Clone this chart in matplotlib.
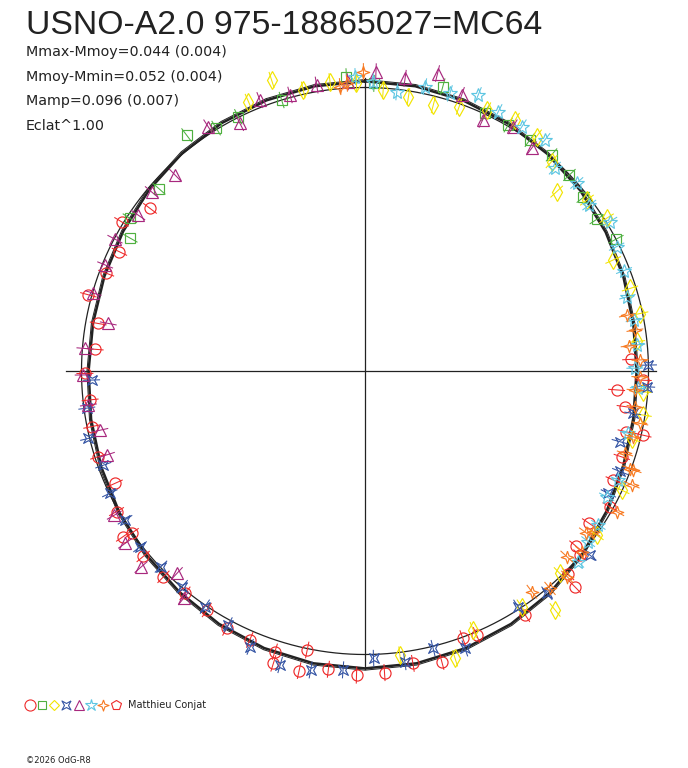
import numpy as np
import matplotlib.pyplot as plt
from matplotlib.collections import LineCollection

plt.rcParams['font.family'] = ['Liberation Sans', 'DejaVu Sans']

# phase angle in degrees (clockwise from top), relative brightness (1 = Mmoy)
red_ang = [307.1, 301.5, 295.9, 290.7, 285.4, 280.1, 274.6, 269.5, 264.0, 258.5, 252.2, 245.8,
           240.5, 235.6, 235.2, 230.1, 224.4, 219.0, 213.5, 208.3, 203.2, 197.8, 197.4, 192.4,
           191.7, 187.0, 181.6, 176.3, 170.7, 165.2, 159.9, 157.1, 146.7, 135.8, 135.0, 130.6,
           129.7, 124.2, 119.0, 113.7, 108.5, 103.1, 103.0, 97.8, 94.3, 91.9, 87.5]
red_flux = [0.951, 1.007, 0.963, 0.976, 1.012, 0.956, 0.955, 0.988, 0.975, 0.984, 0.988, 0.967,
            1.007, 1.034, 1.002, 1.020, 1.016, 1.009, 1.011, 1.030, 1.032, 1.040, 1.081, 1.082,
            1.005, 1.060, 1.073, 1.066, 1.045, 1.060, 1.004, 1.011, 1.029, 1.062, 1.013, 0.998,
            0.967, 0.956, 0.988, 0.957, 0.955, 0.945, 1.007, 0.926, 0.890, 0.982, 0.938]

green_ang = [342.9, 356.4, 1.8, 15.3, 25.0, 30.2, 35.5, 40.8, 46.2, 51.5, 56.8, 62.3,
             333.5, 328.5, 322.9, 311.5, 303.0, 299.5]
green_flux = [1.000, 1.040, 1.015, 1.040, 1.003, 1.004, 1.001, 1.007, 0.999, 0.984, 0.977, 1.000,
              1.002, 1.005, 1.043, 0.970, 0.989, 0.952]

yellow_ang = [342.2, 336.6, 347.6, 353.1, 358.3, 3.7, 9.0, 14.4, 19.6, 25.1, 30.9, 36.2,
              41.7, 46.9, 52.4, 57.7, 65.9, 72.7, 78.2, 83.8, 94.3, 99.0, 104.4, 114.9,
              125.3, 136.1, 141.5, 146.4, 157.3, 162.6, 173.0]
yellow_flux = [1.078, 1.035, 1.015, 1.028, 1.015, 0.993, 0.980, 0.969, 0.990, 1.016, 1.031, 1.025,
               0.989, 0.926, 0.988, 1.008, 0.959, 0.979, 0.991, 0.964, 0.984, 0.994, 0.971, 0.998,
               1.001, 0.991, 1.077, 0.998, 0.990, 1.062, 1.009]

blue_ang = [268.1, 262.4, 256.3, 250.2, 244.4, 238.2, 232.0, 226.2, 220.3, 214.2, 208.3, 202.6,
            196.1, 190.3, 184.2, 178.3, 172.2, 166.2, 160.2, 147.0, 140.7, 129.3, 116.7, 111.5,
            105.5, 99.0, 93.2, 88.8]
blue_flux = [0.965, 0.990, 1.004, 0.981, 0.998, 0.996, 1.007, 0.997, 0.997, 1.005, 1.017, 1.054,
             1.079, 1.072, 1.057, 1.014, 1.035, 1.007, 1.040, 0.992, 1.013, 1.025, 0.961, 0.967,
             0.933, 0.956, 0.995, 1.000]

purple_ang = [338.8, 344.8, 350.4, 356.6, 2.1, 7.8, 13.7, 19.3, 25.1, 31.2, 36.8, 333.2,
              327.3, 315.9, 310.0, 304.5, 297.8, 292.2, 286.0, 280.5, 274.6, 269.2, 263.0, 257.4,
              252.0, 240.1, 234.3, 228.8, 222.9, 218.6]
purple_flux = [1.025, 1.009, 1.023, 1.022, 1.056, 1.042, 1.080, 1.031, 0.978, 1.007, 0.981, 0.979,
               1.024, 0.963, 0.983, 0.971, 0.997, 0.990, 0.997, 0.921, 0.991, 0.994, 0.983, 0.958,
               0.958, 1.020, 1.042, 1.050, 0.975, 1.026]

cyan_ang = [358.1, 1.6, 6.5, 11.9, 17.0, 22.3, 27.2, 32.7, 37.9, 43.1, 48.4, 53.5,
            58.6, 63.7, 68.8, 74.2, 79.3, 84.5, 89.4, 93.6, 103.3, 113.3, 117.5, 123.4,
            127.4, 131.9]
cyan_flux = [1.039, 1.021, 0.991, 1.025, 1.024, 1.052, 1.028, 1.024, 1.033, 0.980, 0.999, 0.984,
             1.012, 0.990, 0.980, 0.962, 0.966, 0.963, 0.952, 0.966, 0.954, 0.973, 0.961, 0.986,
             0.991, 1.008]

orange_ang = [356.4, 355.0, 359.7, 78.0, 81.4, 84.6, 87.7, 91.2, 94.0, 97.5, 100.8, 103.8,
              107.6, 110.2, 110.2, 113.1, 119.2, 125.1, 126.2, 129.8, 132.6, 135.5, 139.6, 142.9]
orange_flux = [1.017, 1.007, 1.056, 0.946, 0.963, 0.936, 0.971, 0.970, 0.955, 0.961, 0.987, 0.974,
               0.962, 0.996, 1.009, 1.023, 1.017, 0.985, 0.966, 0.995, 0.967, 1.018, 1.007, 0.976]

# fitted light curve, sampled every 10 degrees
fit_ang = list(range(0, 360, 10))
fit_flux = [1.022, 1.020, 1.015, 1.008, 1.000, 0.991, 0.980, 0.970, 0.961, 0.958, 0.961, 0.970,
            0.985, 1.002, 1.018, 1.030, 1.040, 1.047, 1.049, 1.047, 1.040, 1.030, 1.018, 1.008,
            1.000, 0.990, 0.981, 0.975, 0.974, 0.978, 0.985, 0.994, 1.003, 1.010, 1.016, 1.020]

W, H = 688, 768
CX, CY, R = 365, 371, 283.5
ERR = 0.03
INK = '#222222'

star4 = [(0, 1), (0.25, 0.25), (1, 0), (0.25, -0.25), (0, -1), (-0.25, -0.25), (-1, 0), (-0.25, 0.25), (0, 1)]
cross4 = [(1, 1), (0, 0.45), (-1, 1), (-0.45, 0), (-1, -1), (0, -0.45), (1, -1), (0.45, 0), (1, 1)]

series = [
    (red_ang, red_flux, 'o', 8, '#ee2a2a'),
    (green_ang, green_flux, 's', 6.5, '#4fb040'),
    (yellow_ang, yellow_flux, 'd', 9, '#f2e400'),
    (blue_ang, blue_flux, cross4, 7, '#3454a4'),
    (purple_ang, purple_flux, '^', 8, '#a8287e'),
    (cyan_ang, cyan_flux, '*', 10, '#5ec6e2'),
    (orange_ang, orange_flux, star4, 9, '#f77a22'),
]


def to_xy(ang, r):
    t = np.radians(np.asarray(ang))
    r = np.asarray(r)
    return r * np.sin(t), r * np.cos(t)


fig = plt.figure(figsize=(W / 100, H / 100), dpi=100)
ax = fig.add_axes([0, 0, 1, 1])
ax.set_xlim(-CX / R, (W - CX) / R)
ax.set_ylim(-(H - CY) / R, CY / R)
ax.axis('off')

# axes through the centre
ax.plot([-1.053, 1.025], [0, 0], color=INK, lw=0.9)
ax.plot([0, 0], [-1.050, 1.035], color=INK, lw=0.9)

# reference circle at Mmoy
tt = np.linspace(0, 360, 721)
cx, cy = to_xy(tt, np.ones_like(tt))
ax.plot(cx, cy, color=INK, lw=0.9)

# fitted curve
fa = fit_ang + [fit_ang[0] + 360]
ff = fit_flux + [fit_flux[0]]
fx, fy = to_xy(fa, ff)
ax.plot(fx, fy, color=INK, lw=1.8)
fx2, fy2 = to_xy(fa, np.array(ff) * 1.006)
ax.plot(fx2, fy2, color=INK, lw=0.7)

for ang, flux, mk, ms, col in series:
    x, y = to_xy(ang, flux)
    x0, y0 = to_xy(ang, np.array(flux) - ERR)
    x1, y1 = to_xy(ang, np.array(flux) + ERR)
    segs = [[(a, b), (c, d)] for a, b, c, d in zip(x0, y0, x1, y1)]
    ax.add_collection(LineCollection(segs, colors=col, linewidths=0.75))
    ax.plot(x, y, ls='none', marker=mk, ms=ms, mfc='none', mec=col, mew=0.85)

# overlay in pixel units for texts and legend
ov = fig.add_axes([0, 0, 1, 1])
ov.set_xlim(0, W)
ov.set_ylim(H, 0)
ov.axis('off')

ov.text(26, 33.5, 'USNO-A2.0 975-18865027=MC64', fontsize=24.3, color=INK, va='baseline')
info = ['Mmax-Mmoy=0.044 (0.004)', 'Mmoy-Mmin=0.052 (0.004)', 'Mamp=0.096 (0.007)', 'Eclat^1.00']
for i, s in enumerate(info):
    ov.text(26, 56 + i * 24.7, s, fontsize=10.3, color=INK, va='baseline', family='DejaVu Sans')

leg_x = [29.5, 41.7, 53.5, 66, 78.5, 90.5, 103, 115.5]
leg_mk = ['o', 's', 'D', cross4, '^', '*', star4, 'p']
leg_ms = [8, 6, 5.5, 6.5, 7, 9, 8, 7.5]
leg_col = ['#ee2a2a', '#4fb040', '#f2e400', '#3454a4', '#a8287e', '#5ec6e2', '#f77a22', '#ee2a2a']
for lx, mk, ms, col in zip(leg_x, leg_mk, leg_ms, leg_col):
    ov.plot([lx], [705], ls='none', marker=mk, ms=ms, mfc='none', mec=col, mew=0.8)
ov.text(128, 705, 'Matthieu Conjat', fontsize=7, color=INK, va='center', family='DejaVu Sans')
ov.text(26, 763, '\u00a92026 OdG-R8', fontsize=6, color=INK, va='baseline', family='DejaVu Sans')

fig.savefig('out.png', dpi=100, facecolor='white')
